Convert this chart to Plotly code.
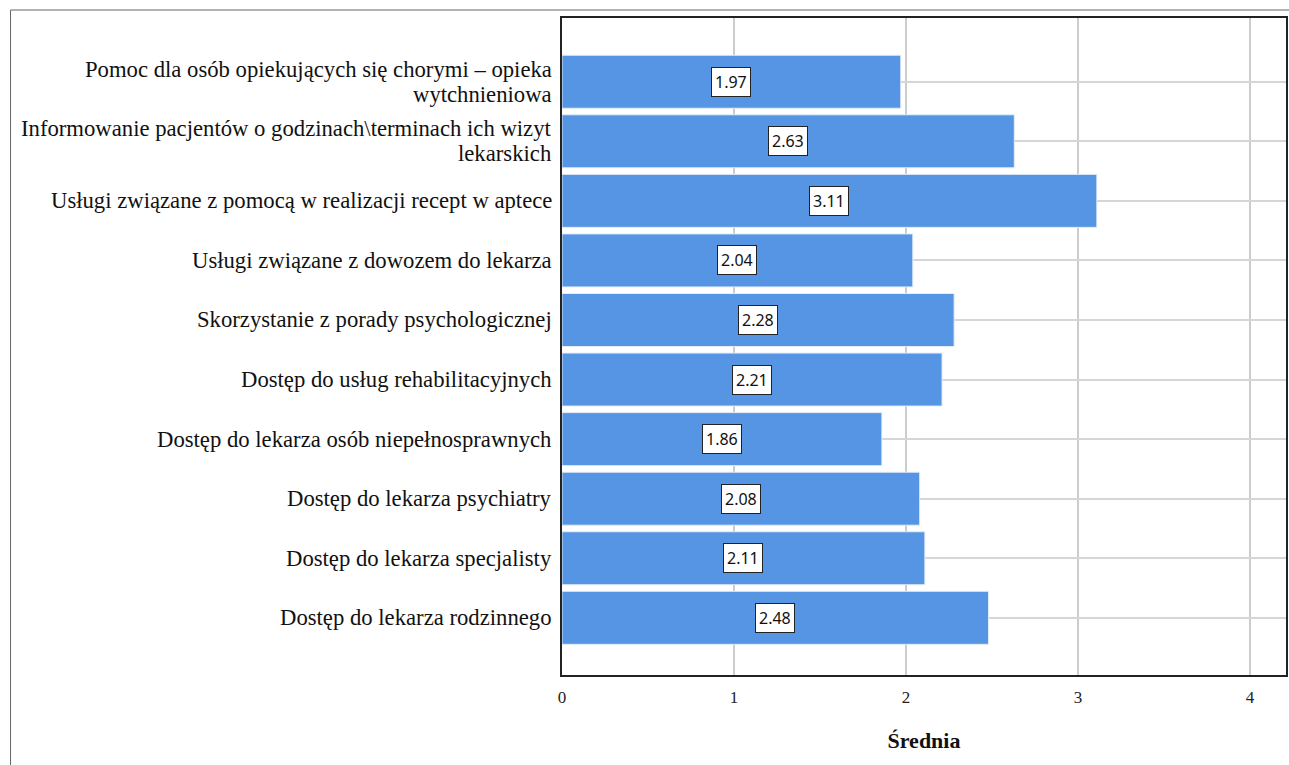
import plotly.graph_objects as go

categories = [
    "Pomoc dla osób opiekujących się chorymi – opieka<br>wytchnieniowa",
    "Informowanie pacjentów o godzinach\\terminach ich wizyt<br>lekarskich",
    "Usługi związane z pomocą w realizacji recept w aptece",
    "Usługi związane z dowozem do lekarza",
    "Skorzystanie z porady psychologicznej",
    "Dostęp do usług rehabilitacyjnych",
    "Dostęp do lekarza osób niepełnosprawnych",
    "Dostęp do lekarza psychiatry",
    "Dostęp do lekarza specjalisty",
    "Dostęp do lekarza rodzinnego",
]
values = [1.97, 2.63, 3.11, 2.04, 2.28, 2.21, 1.86, 2.08, 2.11, 2.48]
x_ticks = [0, 1, 2, 3, 4]
x_title = "Średnia"

W, H = 1289, 765
ml, mr, mt, mb = 562, 1, 18, 90
pw = W - ml - mr
ph = H - mt - mb

SERIF = "Liberation Serif, Times New Roman, serif"

fig = go.Figure()
fig.add_trace(go.Bar(
    x=values, y=list(range(len(categories))), orientation="h",
    marker=dict(color="#5595e4", line=dict(color="#e3ecf8", width=1)),
    width=0.89, hoverinfo="skip",
))

for i, v in enumerate(values):
    fig.add_annotation(
        x=v / 2, y=i, xref="x", yref="y", text=f"{v:.2f}", showarrow=False,
        font=dict(family="Noto Sans, DejaVu Sans", size=16, color="#111"),
        bgcolor="white", bordercolor="#222", borderwidth=1, borderpad=3,
    )

# category labels (right-aligned, tight line spacing)
for i, cat in enumerate(categories):
    lines = cat.split("<br>")
    n = len(lines)
    for k, line in enumerate(lines):
        shift = ((n - 1) / 2 - k) * 25
        fig.add_annotation(
            x=0, y=i, xref="paper", yref="y", text=line, showarrow=False,
            xanchor="right", yanchor="middle", xshift=-8, yshift=shift,
            font=dict(family=SERIF, size=22.7, color="#111"),
        )

# outer frame
fig.add_shape(
    type="rect", xref="paper", yref="paper",
    x0=(9 - ml) / pw, x1=(W + 10 - ml) / pw,
    y0=-(H + 10 - mt - ph) / ph, y1=1 + (mt - 10) / ph,
    line=dict(color="#666", width=1), fillcolor="rgba(0,0,0,0)", layer="below",
)

fig.update_layout(
    width=W, height=H,
    margin=dict(l=ml, r=mr, t=mt, b=mb),
    paper_bgcolor="white", plot_bgcolor="white",
    showlegend=False,
    xaxis=dict(
        range=[0, 4.21], tickvals=x_ticks, ticktext=[str(t) for t in x_ticks],
        showgrid=True, gridcolor="#cccccc", gridwidth=1.5,
        showline=True, linecolor="#222", linewidth=2, mirror=True,
        ticks="", zeroline=False, ticklabelstandoff=6,
        tickfont=dict(family=SERIF, size=17, color="#222"),
        title=dict(text="<b>" + x_title + "</b>", standoff=26,
                   font=dict(family=SERIF, size=22, color="#111")),
    ),
    yaxis=dict(
        tickmode="array", tickvals=list(range(len(categories))),
        range=[len(categories) - 1 + 0.96, -1.07],
        showgrid=True, gridcolor="#d6d6d6", gridwidth=1.5,
        showline=True, linecolor="#222", linewidth=2, mirror=True,
        ticks="", zeroline=False, showticklabels=False,
    ),
)

fig.write_html(
    "out.html",
    config={"displayModeBar": False},
    post_script="document.body.style.margin='0';document.body.style.overflow='hidden';",
)
